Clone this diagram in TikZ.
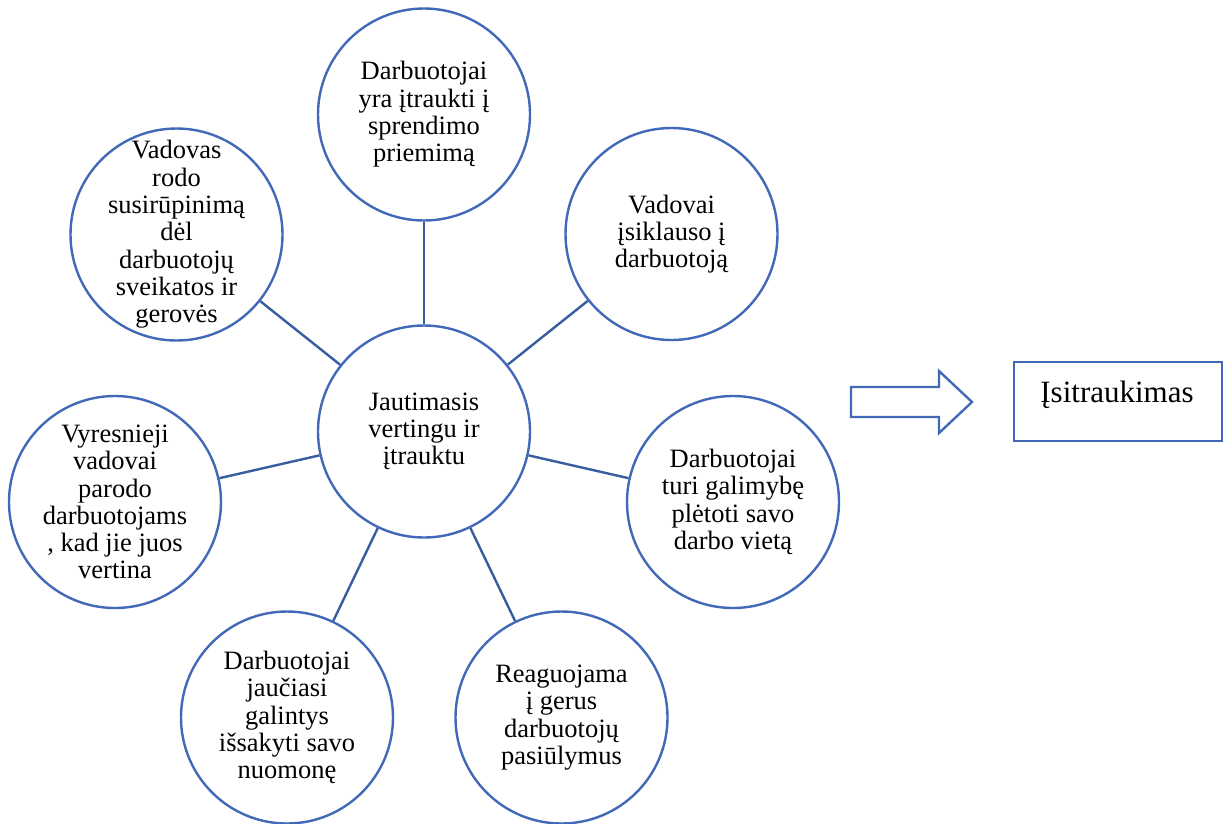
\documentclass[tikz,border=0pt]{standalone}
\usepackage{fontspec}
\setmainfont{Liberation Serif}
\definecolor{ringblue}{HTML}{4169B8}
\definecolor{spokeblue}{HTML}{385D9F}
\tikzset{
  ring/.style={circle, draw=ringblue, line width=2.4pt, minimum size=212pt, inner sep=0pt, fill=white},
  ringtext/.style={align=center, inner sep=0pt, font=\fontsize{26.5}{27.3}\selectfont},
  spoke/.style={draw=spokeblue, line width=2.4pt},
  outbox/.style={draw=ringblue, line width=2.4pt, minimum width=208pt, minimum height=79pt, inner sep=0pt},
  blockarrow/.style={draw=ringblue, line width=2.4pt, line join=miter}
}
\begin{document}
\begin{tikzpicture}[x=1pt, y=-1pt]
  \useasboundingbox (0,0) rectangle (1225,823);

  % hub and its seven surrounding circles
  \node[ring] (c)  at (424,431.5) {};
  \node[ring] (s1) at (424,114.5) {};
  \node[ring] (s2) at (671.5,234) {};
  \node[ring] (s3) at (733,502) {};
  \node[ring] (s4) at (561.5,717.5) {};
  \node[ring] (s5) at (287,717.5) {};
  \node[ring] (s6) at (115,502) {};
  \node[ring] (s7) at (176.5,234.5) {};

  % spokes from the hub to each circle
  \foreach \s in {s1,s2,s3,s4,s5,s6,s7}
    \draw[spoke] (c) -- (\s);

  % circle labels
  \node[ringtext] (tc) at (c)  {Jautimasis\\vertingu ir\\įtrauktu};
  \node[ringtext] (t1) at (s1) {Darbuotojai\\yra įtraukti į\\sprendimo\\priemimą};
  \node[ringtext] (t2) at (s2) {Vadovai\\įsiklauso į\\darbuotoją};
  \node[ringtext] (t3) at (s3) {Darbuotojai\\turi galimybę\\plėtoti savo\\darbo vietą};
  \node[ringtext] (t4) at (s4) {Reaguojama\\į gerus\\darbuotojų\\pasiūlymus};
  \node[ringtext] (t5) at (s5) {Darbuotojai\\jaučiasi\\galintys\\išsakyti savo\\nuomonę};
  \node[ringtext] (t6) at (s6) {Vyresnieji\\vadovai\\parodo\\darbuotojams\\, kad jie juos\\vertina};
  \node[ringtext] (t7) at (s7) {Vadovas\\rodo\\susirūpinimą\\dėl\\darbuotojų\\sveikatos ir\\gerovės};

  % hollow block arrow
  \draw[blockarrow] (851,387) -- (939,387) -- (939,371) -- (972,402)
    -- (939,433) -- (939,417) -- (851,417) -- cycle;

  % result box
  \node[outbox] (res) at (1118,401.5) {};
  \node[anchor=base, inner sep=0pt, font=\fontsize{31}{34}\selectfont] (restext) at (1117,402) {Įsitraukimas};
\end{tikzpicture}
\end{document}
